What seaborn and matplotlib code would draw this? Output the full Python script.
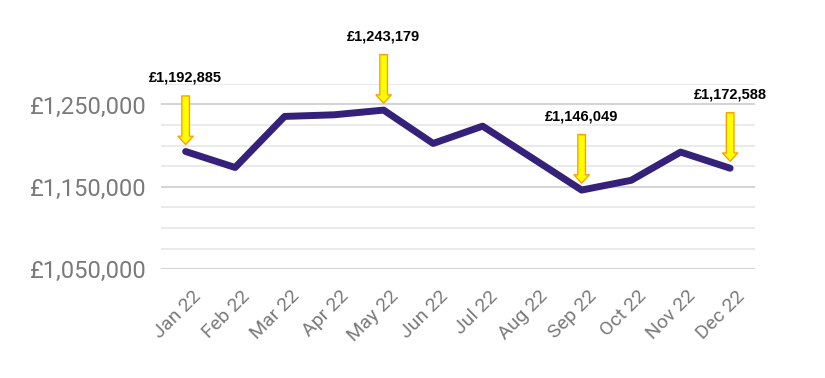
import matplotlib
matplotlib.use("Agg")
import matplotlib.pyplot as plt
import matplotlib.transforms as mtransforms
import seaborn as sns
import pandas as pd
from matplotlib.ticker import FuncFormatter, MultipleLocator

months = ["Jan 22", "Feb 22", "Mar 22", "Apr 22", "May 22", "Jun 22",
          "Jul 22", "Aug 22", "Sep 22", "Oct 22", "Nov 22", "Dec 22"]
values = [1192885, 1173500, 1235500, 1237500, 1243179, 1202700,
          1223700, 1185000, 1146049, 1157900, 1192200, 1172588]
labelled = ["Jan 22", "May 22", "Sep 22", "Dec 22"]
y_ticks = [1050000, 1150000, 1250000]

df = pd.DataFrame({"month": months, "value": values})

sns.set_style("white")
plt.rcParams["font.family"] = ["Roboto", "DejaVu Sans"]

fig = plt.figure(figsize=(8.25, 3.78), dpi=100)
ax = fig.add_axes([0.195, 0.288, 0.72, 0.49])

sns.lineplot(data=df, x="month", y="value", ax=ax, color="#35207a",
             linewidth=5, sort=False, zorder=3)

ax.set_xlim(-0.5, len(months) - 0.5)
ax.set_ylim(1050000, 1275000)
ax.yaxis.set_minor_locator(MultipleLocator(25000))
ax.set_yticks(y_ticks)
ax.yaxis.set_major_formatter(FuncFormatter(lambda v, p: f"£{int(v):,}"))
ax.grid(True, which="minor", axis="y", color="#e6e6e6", linewidth=1.2, zorder=0)
ax.grid(True, which="major", axis="y", color="#cccccc", linewidth=1.2, zorder=0)
ax.grid(False, axis="x")
ax.tick_params(axis="y", which="both", length=0, pad=10, labelsize=17, labelcolor="#7a7a7a")
ax.tick_params(axis="x", length=0, pad=13, labelsize=14, labelcolor="#7a7a7a")
shift = mtransforms.ScaledTranslation(6 / 100, 0, fig.dpi_scale_trans)
for lab in ax.get_xticklabels():
    lab.set_rotation(45)
    lab.set_ha("right")
    lab.set_rotation_mode("anchor")
    lab.set_transform(lab.get_transform() + shift)
ax.set_xlabel("")
ax.set_ylabel("")
for s in ax.spines.values():
    s.set_visible(False)

tip = mtransforms.offset_copy(ax.transData, fig=fig, x=0, y=5, units="points")
for m in labelled:
    i = months.index(m)
    v = values[i]
    ax.annotate("", xy=(i, v), xycoords=tip,
                xytext=(0, 35), textcoords="offset points",
                arrowprops=dict(facecolor="#ffff00", edgecolor="#ffa000",
                                width=5.5, headwidth=11, headlength=6,
                                shrink=0, linewidth=1),
                annotation_clip=False, zorder=5)
    ax.annotate(f"£{v:,}", xy=(i, v), xycoords="data",
                xytext=(0, 48), textcoords="offset points",
                ha="center", va="bottom", fontsize=10.5, fontweight="bold",
                family=["Liberation Sans", "DejaVu Sans"], color="black",
                annotation_clip=False, zorder=5)

fig.savefig("out.png", dpi=100, facecolor="white")
